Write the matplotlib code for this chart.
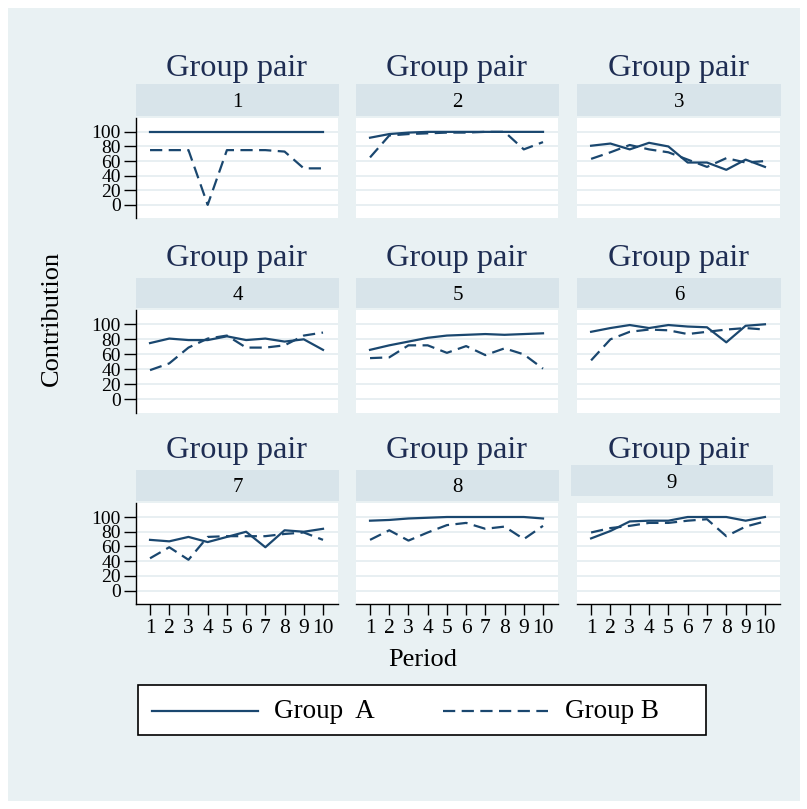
import matplotlib
matplotlib.use("Agg")
import matplotlib.pyplot as plt
from matplotlib.patches import Rectangle
from matplotlib.lines import Line2D

plt.rcParams['font.family'] = ['Liberation Serif', 'DejaVu Serif']

periods = [1, 2, 3, 4, 5, 6, 7, 8, 9, 10]
pairs = ["1", "2", "3", "4", "5", "6", "7", "8", "9"]
yticks = [0, 20, 40, 60, 80, 100]

group_a = {
    "1": [100, 100, 100, 100, 100, 100, 100, 100, 100, 100],
    "2": [92, 97, 99, 100, 100, 100, 100, 100, 100, 100],
    "3": [81, 84, 76, 85, 80, 58, 58, 48, 62, 52],
    "4": [75, 81, 79, 79, 84, 79, 81, 77, 80, 66],
    "5": [66, 72, 77, 82, 85, 86, 87, 86, 87, 88],
    "6": [90, 95, 99, 95, 99, 97, 96, 76, 98, 100],
    "7": [69, 67, 73, 66, 73, 80, 59, 82, 80, 84],
    "8": [95, 96, 98, 99, 100, 100, 100, 100, 100, 98],
    "9": [71, 81, 94, 95, 95, 100, 100, 100, 95, 100],
}
group_b = {
    "1": [75, 75, 75, 0, 75, 75, 75, 73, 50, 50],
    "2": [65, 95, 97, 98, 99, 99, 100, 100, 76, 86],
    "3": [63, 72, 82, 76, 72, 62, 52, 64, 58, 60],
    "4": [39, 48, 69, 81, 85, 69, 69, 72, 85, 89],
    "5": [55, 56, 72, 72, 62, 71, 59, 68, 60, 41],
    "6": [52, 80, 90, 93, 92, 87, 90, 93, 95, 93],
    "7": [44, 59, 42, 73, 74, 74, 74, 77, 79, 69],
    "8": [69, 82, 68, 79, 89, 92, 84, 87, 70, 88],
    "9": [79, 85, 88, 92, 92, 95, 97, 74, 87, 94],
}

W, H = 807, 809
fig = plt.figure(figsize=(W / 100, H / 100), dpi=100)
fig.patch.set_facecolor("white")

BG = "#e9f1f3"
STRIP = "#d8e4ea"
NAVY = "#1a476f"
TITLE = "#1e2d53"
GRID = "#e6eef1"

fig.patches.append(Rectangle((8 / W, 1 - 801 / H), 792 / W, 793 / H,
                             transform=fig.transFigure, facecolor=BG,
                             edgecolor="none", zorder=-10))


def fx(x):
    return x / W


def fy(y):
    return 1 - y / H


def rect(x0, y0, x1, y1):
    return [x0 / W, 1 - y1 / H, (x1 - x0) / W, (y1 - y0) / H]


cols = [(136, 338), (356, 558), (577, 780)]
rows = [(118, 218), (310, 413), (503, 604)]
strips = [(84, 116), (278, 308), (470, 501)]
title_base = [76, 266, 458]

dash = (0, (5.5, 2.9))

for i, key in enumerate(pairs):
    r, c = divmod(i, 3)
    x0, x1 = cols[c]
    y0, y1 = rows[r]
    ax = fig.add_axes(rect(x0, y0, x1, y1))
    ax.set_facecolor("white")
    ax.set_xlim(0.27, 10.78)
    ax.set_ylim(-18, 119)
    for yv in yticks:
        ax.axhline(yv, color=GRID, lw=1.3, zorder=0)
    ax.plot(periods, group_a[key], color=NAVY, lw=1.6, zorder=3)
    ax.plot(periods, group_b[key], color=NAVY, lw=1.6, linestyle=dash, zorder=3)
    for s in ["top", "right"]:
        ax.spines[s].set_visible(False)
    ax.spines["left"].set_visible(c == 0)
    ax.spines["bottom"].set_visible(r == 2)
    ax.spines["left"].set_linewidth(1.0)
    ax.spines["bottom"].set_linewidth(1.0)
    if c == 0:
        ax.set_yticks(yticks)
        ax.set_yticklabels([str(v) for v in yticks], fontsize=14)
        ax.tick_params(axis="y", length=9, width=1.0, pad=2)
    else:
        ax.set_yticks([])
    if r == 2:
        ax.set_xticks(periods)
        ax.set_xticklabels([str(p) for p in periods], fontsize=15.5)
        ax.tick_params(axis="x", length=8, width=1.0, pad=3)
    else:
        ax.set_xticks([])

    # strip
    sx0, sx1 = x0, x1 + 1
    sy0, sy1 = strips[r]
    if key == "9":
        sx0, sx1 = x0 - 6, x1 - 7
        sy0, sy1 = sy0 - 5, sy1 - 5
    fig.patches.append(Rectangle((fx(sx0), fy(sy1)), (sx1 - sx0) / W, (sy1 - sy0) / H,
                                 transform=fig.transFigure, facecolor=STRIP,
                                 edgecolor="none", zorder=1))
    fig.text(fx((sx0 + sx1) / 2), fy((sy0 + sy1) / 2), key, fontsize=15,
             ha="center", va="center_baseline", color="black")
    fig.text(fx((x0 + x1) / 2), fy(title_base[r]), "Group pair", fontsize=23.3,
             ha="center", va="baseline", color=TITLE)

fig.text(fx(52), fy(318), "Contribution", fontsize=19, rotation=90,
         ha="center", va="center", color="black")
fig.text(fx(423), fy(660), "Period", fontsize=19, ha="center", va="center",
         color="black")

# legend
fig.patches.append(Rectangle((fx(138), fy(735)), (706 - 138) / W, (735 - 685) / H,
                             transform=fig.transFigure, facecolor="white",
                             edgecolor="black", lw=1.2, zorder=2))
fig.lines.append(Line2D([fx(152), fx(258)], [fy(711), fy(711)], color=NAVY, lw=1.6,
                        transform=fig.transFigure, zorder=3))
fig.lines.append(Line2D([fx(443), fx(548)], [fy(711), fy(711)], color=NAVY, lw=1.6,
                        linestyle=dash, transform=fig.transFigure, zorder=3))
fig.text(fx(274), fy(711), "Group  A", fontsize=19.5, ha="left", va="center", zorder=4)
fig.text(fx(565), fy(711), "Group B", fontsize=19.5, ha="left", va="center", zorder=4)

fig.savefig("out.png", dpi=100, facecolor=fig.get_facecolor())
